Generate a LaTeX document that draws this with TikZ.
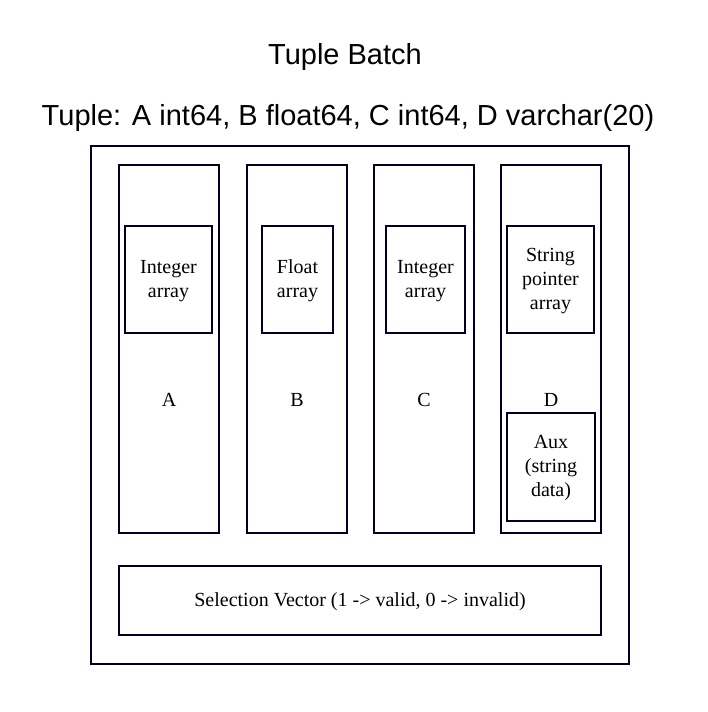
\documentclass[tikz,border=0pt]{standalone}
\usepackage{fontspec}
\setmainfont{Liberation Serif}
\newfontfamily\titlefont{Liberation Sans}
\begin{document}
\begin{tikzpicture}[x=1pt,y=-1pt,
  bx/.style={draw=black!85!blue,line width=1.4pt},
  lbl/.style={font=\fontsize{20}{24}\selectfont,align=center},
  ttl/.style={font=\titlefont\fontsize{29}{34}\selectfont}]
\useasboundingbox (0,0) rectangle (708,712);
\node[ttl] (t1) at (345,57) {Tuple Batch};
\node[ttl] (t2) at (348,118) {Tuple: A int64, B float64, C int64, D varchar(20)};
\draw[bx] (91,146) rectangle (629,664);
\draw[bx] (119,165) rectangle (219,533);
\draw[bx] (247,165) rectangle (347,533);
\draw[bx] (374,165) rectangle (474,533);
\draw[bx] (501,165) rectangle (601,533);
\draw[bx] (125,226) rectangle (212,333);
\draw[bx] (262,226) rectangle (333,333);
\draw[bx] (386,226) rectangle (465,333);
\draw[bx] (507,226) rectangle (594,333);
\draw[bx] (507,413) rectangle (595,521);
\draw[bx] (119,566) rectangle (601,635);
\node[lbl] (ia) at (168.5,281) {Integer\\array};
\node[lbl] (fb) at (297.5,281) {Float\\array};
\node[lbl] (ic) at (425.5,281) {Integer\\array};
\node[lbl] (sd) at (550.5,281) {String\\pointer\\array};
\node[lbl] (la) at (169,400) {A};
\node[lbl] (lb) at (297,400) {B};
\node[lbl] (lc) at (424,400) {C};
\node[lbl] (ld) at (551,400) {D};
\node[lbl] (aux) at (551,468) {Aux\\(string\\data)};
\node[lbl] (sv) at (360,602) {Selection Vector (1 -> valid, 0 -> invalid)};
\end{tikzpicture}
\end{document}
